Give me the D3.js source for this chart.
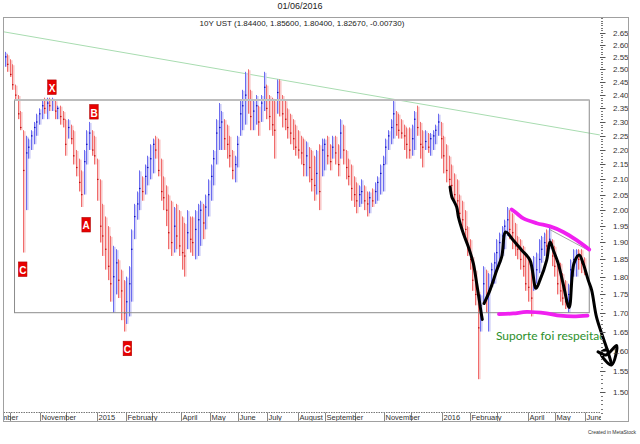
<!DOCTYPE html>
<html><head><meta charset="utf-8">
<script src="https://cdn.jsdelivr.net/npm/d3@7"></script>
<style>html,body{margin:0;padding:0;background:#fff;}svg{display:block;font-family:"Liberation Sans",Arial,sans-serif;}</style>
</head><body><svg id="c" width="640" height="444"></svg>
<script>
// ---- data (10Y UST, one bar per two trading days, first bar = weekday index -3 relative to 1 Oct 2014) ----
const highs = [
2.57,2.56,2.54,2.52,2.44,2.40,2.34,2.27,2.25,2.24, 2.27,2.30,2.33,2.35,2.38,2.39,2.39,2.39,2.39,2.38,
2.36,2.36,2.34,2.31,2.31,2.29,2.27,2.20,2.17,2.13, 2.20,2.27,2.30,2.27,2.25,2.17,2.10,2.02,1.98,1.95,
1.92,1.89,1.88,1.85,1.82,1.79,1.80,1.83,1.94,2.02, 2.06,2.13,2.11,2.15,2.18,2.22,2.24,2.25,2.24,2.17,
2.11,2.08,2.05,2.03,2.01,2.02,2.00,1.98,1.96,2.00, 1.98,1.98,2.00,2.02,2.03,2.02,2.05,2.10,2.15,2.20,
2.31,2.37,2.34,2.31,2.29,2.25,2.20,2.18,2.25,2.38, 2.42,2.49,2.50,2.42,2.38,2.40,2.36,2.40,2.49,2.44,
2.40,2.39,2.38,2.46,2.46,2.40,2.38,2.35,2.33,2.31, 2.29,2.27,2.25,2.24,2.23,2.21,2.20,2.18,2.20,2.22,
2.24,2.24,2.25,2.22,2.25,2.25,2.22,2.31,2.29,2.20, 2.17,2.15,2.11,2.09,2.08,2.10,2.08,2.06,2.06,2.07,
2.09,2.11,2.15,2.18,2.24,2.27,2.31,2.38,2.34,2.33, 2.31,2.29,2.28,2.28,2.29,2.34,2.36,2.30,2.27,2.27,
2.26,2.26,2.27,2.29,2.33,2.30,2.25,2.22,2.18,2.15, 2.12,2.10,2.05,2.03,2.00,1.95,1.91,1.86,1.82,1.76,
1.75,1.83,1.82,1.81,1.84,1.87,1.91,1.93,1.95,1.97, 2.01,2.00,1.99,1.96,1.92,1.91,1.89,1.86,1.85,1.82,
1.86,1.87,1.91,1.92,1.93,1.94,1.95,1.91,1.89,1.85, 1.84,1.81,1.79,1.78,1.85,1.88,1.88,1.88,1.88,1.856];
const lows = [
2.51,2.49,2.47,2.42,2.38,2.31,2.27,1.87,2.00,2.17, 2.20,2.22,2.25,2.29,2.31,2.33,2.31,2.34,2.34,2.31,
2.31,2.29,2.28,2.18,2.24,2.22,2.15,2.11,2.06,2.01, 2.05,2.15,2.20,2.18,2.15,2.03,1.90,1.86,1.82,1.79,
1.73,1.70,1.75,1.74,1.68,1.65,1.67,1.69,1.73,1.91, 1.97,2.00,2.03,2.05,2.08,2.10,2.12,2.17,2.11,2.03,
2.00,1.95,1.88,1.86,1.87,1.88,1.86,1.82,1.80,1.88, 1.87,1.86,1.85,1.86,1.89,1.91,1.94,1.98,2.03,2.08,
2.15,2.20,2.20,2.20,2.17,2.14,2.10,2.09,2.14,2.25, 2.27,2.29,2.33,2.27,2.27,2.29,2.25,2.30,2.34,2.31,
2.27,2.25,2.17,2.33,2.32,2.28,2.27,2.24,2.22,2.20, 2.18,2.17,2.15,2.11,2.11,2.09,2.06,2.03,2.05,2.00,
2.11,2.13,2.15,2.13,2.17,2.15,2.11,2.17,2.15,2.10, 2.08,2.03,2.01,1.99,2.01,2.02,2.00,1.98,1.99,2.01,
2.02,2.03,2.05,2.06,2.15,2.20,2.22,2.24,2.25,2.24, 2.24,2.20,2.17,2.17,2.18,2.20,2.25,2.17,2.14,2.20,
2.19,2.18,2.20,2.22,2.25,2.17,2.12,2.09,2.06,2.04, 2.02,2.00,1.96,1.94,1.91,1.86,1.82,1.76,1.72,1.53,
1.65,1.73,1.70,1.65,1.77,1.78,1.82,1.84,1.86,1.88, 1.92,1.91,1.88,1.86,1.85,1.82,1.80,1.76,1.73,1.69,
1.76,1.78,1.81,1.84,1.86,1.86,1.88,1.83,1.80,1.75, 1.73,1.72,1.71,1.70,1.77,1.80,1.80,1.82,1.81,1.804];
const closes = [
2.55,2.52,2.48,2.44,2.40,2.33,2.28,2.13,2.19,2.21, 2.25,2.28,2.30,2.33,2.36,2.35,2.37,2.36,2.38,2.34,
2.35,2.32,2.31,2.22,2.28,2.24,2.18,2.14,2.09,2.05, 2.16,2.22,2.26,2.20,2.18,2.10,1.95,1.92,1.88,1.83,
1.78,1.80,1.84,1.79,1.76,1.70,1.73,1.78,1.88,1.98, 2.02,2.07,2.06,2.11,2.14,2.17,2.22,2.20,2.13,2.06,
2.04,2.00,1.93,1.90,1.95,1.92,1.89,1.87,1.86,1.93, 1.91,1.90,1.94,1.97,2.00,1.96,2.01,2.05,2.11,2.17,
2.26,2.28,2.30,2.24,2.22,2.18,2.13,2.15,2.22,2.33, 2.36,2.40,2.38,2.32,2.34,2.36,2.30,2.37,2.43,2.35,
2.32,2.29,2.27,2.41,2.38,2.33,2.31,2.28,2.26,2.24, 2.21,2.20,2.19,2.15,2.18,2.14,2.10,2.08,2.12,2.06,
2.20,2.22,2.18,2.16,2.21,2.19,2.15,2.26,2.20,2.14, 2.11,2.07,2.05,2.03,2.05,2.06,2.03,2.02,2.04,2.03,
2.06,2.09,2.12,2.15,2.21,2.25,2.28,2.33,2.29,2.27, 2.26,2.25,2.22,2.20,2.24,2.31,2.28,2.22,2.21,2.23,
2.21,2.24,2.25,2.27,2.30,2.24,2.18,2.13,2.10,2.08, 2.05,2.03,1.99,1.97,1.94,1.89,1.85,1.79,1.75,1.66,
1.72,1.78,1.74,1.76,1.82,1.84,1.87,1.90,1.92,1.95, 1.97,1.94,1.93,1.89,1.88,1.85,1.83,1.78,1.77,1.74,
1.79,1.82,1.85,1.88,1.90,1.89,1.91,1.86,1.83,1.78, 1.76,1.74,1.73,1.75,1.82,1.85,1.86,1.85,1.84,1.8267];
const firstBarIndex = -3, barStep = 2;

const yTickValues = [1.50,1.55,1.60,1.65,1.70,1.75,1.80,1.85,1.90,1.95,2.00,2.05,2.10,2.15,2.20,2.25,2.30,2.35,2.40,2.45,2.50,2.55,2.60,2.65];
const yTickLabels = yTickValues.map(v => v.toFixed(2));
const monthLabels = ["September","","November","","2015","February","","April","May","June","July","August",
                     "September","","November","","2016","February","","April","May","June"];

// annotations: [weekday index, yield]
const trendLine = [[-4.5,2.653],[446.6,2.253]];
const rangeBox = {i0:3.8, i1:438.6, top:2.381, bottom:1.70};
const markers = [["X",31.9,2.431],["B",63.7,2.338],["A",57.8,1.955],["C",9.8,1.822],["C",89.0,1.607]];
const magentaTop = [[379.9,2.002],[383.7,1.990],[388.7,1.974],[398.8,1.959],[408.9,1.949],[418.9,1.932],[429.0,1.907],[438.6,1.879]];
const magentaBottom = [[370.3,1.696],[381.1,1.698],[391.3,1.702],[406.4,1.698],[416.5,1.692],[426.5,1.690],[437.3,1.692]];
const greyLine = [[408.9,1.939],[437.8,1.877]];
const blackStroke1 = [[333.3,2.075],[334.6,2.043],[335.8,2.032],[338.3,2.010],[339.6,1.979],[343.3,1.928],[347.1,1.887],[350.9,1.838],[353.5,1.779],[355.4,1.734],[356.7,1.702],[357.7,1.682]];
const blackStroke2 = [[359.0,1.725],[363.5,1.762],[368.6,1.818],[372.4,1.858],[375.4,1.932],[381.1,1.907],[387.5,1.877],[393.7,1.848],[398.3,1.767],[401.3,1.790],[406.4,1.848],[408.9,1.902],[411.4,1.877],[415.1,1.838],[418.9,1.779],[423.4,1.714],[427.0,1.838],[431.0,1.863],[434.0,1.838],[437.8,1.790],[440.4,1.762],[444.1,1.688],[449.1,1.634],[452.9,1.596],[455.5,1.567]];
const arrowHead = [[445.2,1.598],[451.2,1.590],[459.3,1.614],[455.5,1.565],[447.4,1.595],[452.0,1.604]];
const noteText = {text:"Suporte foi respeitado", i:368.0, v:1.629};

// ---- layout ----
const svg = d3.select("#c");
const frame = {l:3.5, t:17.5, r:628.5, b:421.5};
const plotR = 600, axisY = 412.5;
const x = d3.scaleLinear().domain([0,435]).range([9.5,584.5]);
const y = d3.scaleLog().domain([1.5,2.65]).range([391.7,32.5]);

const defs = svg.append("defs");
defs.append("clipPath").attr("id","pc").append("rect")
  .attr("x",frame.l).attr("y",frame.t).attr("width",plotR-frame.l).attr("height",axisY-frame.t);
defs.append("clipPath").attr("id","nc").append("rect")
  .attr("x",frame.l).attr("y",frame.t).attr("width",603-frame.l).attr("height",axisY-frame.t);
defs.append("clipPath").attr("id","fc").append("rect")
  .attr("x",frame.l).attr("y",frame.t).attr("width",frame.r-frame.l).attr("height",frame.b-frame.t);
defs.append("clipPath").attr("id","pc2").append("rect")
  .attr("x",frame.l).attr("y",axisY-1).attr("width",plotR-frame.l+1).attr("height",frame.b-axisY+1);

// titles
svg.append("text").attr("x",300).attr("y",9).attr("text-anchor","middle").attr("font-size",9).attr("fill","#222").text("01/06/2016");
svg.append("text").attr("x",302).attr("y",25.5).attr("text-anchor","middle").attr("font-size",8).attr("fill","#222")
  .text("10Y UST (1.84400, 1.85600, 1.80400, 1.82670, -0.00730)");
svg.append("text").attr("x",636).attr("y",434).attr("text-anchor","end").attr("font-size",5).attr("fill","#333").text("Created in MetaStock");

const plot = svg.append("g").attr("clip-path","url(#pc)");
const line = d3.line().x(d=>x(d[0])).y(d=>y(d[1]));

// green trend line
plot.append("path").attr("d",line(trendLine)).attr("fill","none").attr("stroke","#a8dcb0").attr("stroke-width",1);

// bars
const bars = highs.map((h,i)=>({idx:firstBarIndex+barStep*i, h, l:lows[i], c:closes[i], up: i===0 ? true : closes[i]>=closes[i-1]}));
const bg = plot.append("g");
bg.selectAll("rect.p").data(bars).join("rect").attr("class","p")
  .attr("x",d=>Math.round(x(d.idx))).attr("width",1.6)
  .attr("y",d=>y(d.h)+1).attr("height",d=>Math.max(1,y(d.l)-y(d.h)-1))
  .attr("fill",d=>d.up?"#cdcdf7":"#f9caca");
bg.selectAll("rect.l").data(bars).join("rect").attr("class","l")
  .attr("x",d=>Math.round(x(d.idx))-1).attr("width",1)
  .attr("y",d=>y(d.h)).attr("height",d=>Math.max(1,y(d.l)-y(d.h)))
  .attr("fill",d=>d.up?"#6c6cef":"#f06c6c");
bg.selectAll("rect.c").data(bars).join("rect").attr("class","c")
  .attr("x",d=>Math.round(x(d.idx))-1).attr("width",1.5)
  .attr("y",d=>y(d.c)-0.5).attr("height",1.2)
  .attr("fill",d=>d.up?"#1010c0":"#c01010");

// range box
plot.append("rect").attr("x",x(rangeBox.i0)).attr("y",y(rangeBox.top))
  .attr("width",x(rangeBox.i1)-x(rangeBox.i0)).attr("height",y(rangeBox.bottom)-y(rangeBox.top))
  .attr("fill","none").attr("stroke","#8c8c8c").attr("stroke-width",1);
plot.append("line").attr("x1",x(rangeBox.i0)).attr("x2",x(rangeBox.i1)).attr("y1",y(rangeBox.top)).attr("y2",y(rangeBox.top))
  .attr("stroke","#bdbdbd").attr("stroke-width",2);

// thin grey line & magenta
plot.append("path").attr("d",line(greyLine)).attr("fill","none").attr("stroke","#8a8a8a").attr("stroke-width",0.8);
const smooth = d3.line().x(d=>x(d[0])).y(d=>y(d[1])).curve(d3.curveCatmullRom);
[magentaTop,magentaBottom].forEach(p=>{
  svg.append("path").attr("d",smooth(p)).attr("fill","none").attr("stroke","#f020f0").attr("stroke-width",3.8).attr("stroke-linecap","round");
});

// markers
const mk = svg.append("g");
markers.forEach(([t,i,v])=>{
  const g = mk.append("g").attr("transform",`translate(${x(i)},${y(v)})`);
  g.append("rect").attr("x",-4).attr("y",-7).attr("width",8.5).attr("height",14.5).attr("fill","#e80000").attr("stroke","#b00000").attr("stroke-width",0.6);
  g.append("text").attr("x",0.3).attr("y",5).attr("text-anchor","middle").attr("font-size",10).attr("font-weight","bold").attr("fill","#fff").text(t);
});

// note text
svg.append("g").attr("clip-path","url(#nc)").append("text").attr("x",x(noteText.i)).attr("y",y(noteText.v))
  .attr("font-family","Lato, 'Open Sans', sans-serif")
  .attr("font-size",12).attr("fill","#2b8f2b").text(noteText.text);

// black hand-drawn strokes
[blackStroke1,blackStroke2,arrowHead].forEach(p=>{
  svg.append("path").attr("d",smooth(p)).attr("fill","none").attr("stroke","#000").attr("stroke-width",3)
    .attr("stroke-linecap","round").attr("stroke-linejoin","round");
});

// y axis
const ya = svg.append("g").attr("clip-path","url(#fc)");
const minor = d3.range(145,272).map(k=>k/100);
ya.selectAll("line.mn").data(minor).join("line").attr("class","mn")
  .attr("x1",601).attr("x2",603).attr("y1",d=>Math.round(y(d))+0.5).attr("y2",d=>Math.round(y(d))+0.5)
  .attr("stroke","#777").attr("stroke-width",1);
ya.selectAll("line.mj").data(yTickValues).join("line").attr("class","mj")
  .attr("x1",600).attr("x2",605.5).attr("y1",d=>Math.round(y(d))+0.5).attr("y2",d=>Math.round(y(d))+0.5)
  .attr("stroke","#555").attr("stroke-width",1);
ya.selectAll("text").data(yTickValues).join("text")
  .attr("x",613).attr("y",d=>y(d)+3).attr("font-size",8).attr("fill","#333").text((d,i)=>yTickLabels[i]);

// x axis: month separators based on weekday index (0 = 1 Oct 2014)
const days = d3.timeDay.range(new Date(2014,8,1), new Date(2016,6,1)).filter(d=>d.getDay()!==0&&d.getDay()!==6);
const originPos = days.findIndex(d=>+d===+new Date(2014,9,1));
const months = d3.timeMonth.range(new Date(2014,8,1), new Date(2016,6,1));
const monthIdx = months.map(m=>days.findIndex(d=>d>=m)-originPos);
const xa = svg.append("g").attr("clip-path","url(#pc2)");
xa.append("line").attr("x1",frame.l).attr("x2",plotR).attr("y1",axisY).attr("y2",axisY)
  .attr("stroke","#777").attr("stroke-dasharray","1.5,1");
xa.selectAll("line.sep").data(monthIdx).join("line").attr("class","sep")
  .attr("x1",d=>Math.round(x(d))+0.5).attr("x2",d=>Math.round(x(d))+0.5).attr("y1",axisY).attr("y2",frame.b)
  .attr("stroke","#888");
xa.selectAll("text").data(monthIdx).join("text")
  .attr("x",d=>Math.round(x(d))+1.5).attr("y",420).attr("font-size",7.5).attr("fill","#333")
  .text((d,i)=>monthLabels[i]);

// frame
svg.append("rect").attr("x",frame.l).attr("y",frame.t).attr("width",frame.r-frame.l).attr("height",frame.b-frame.t)
  .attr("fill","none").attr("stroke","#a0a0a0").attr("stroke-width",1);
</script></body></html>
